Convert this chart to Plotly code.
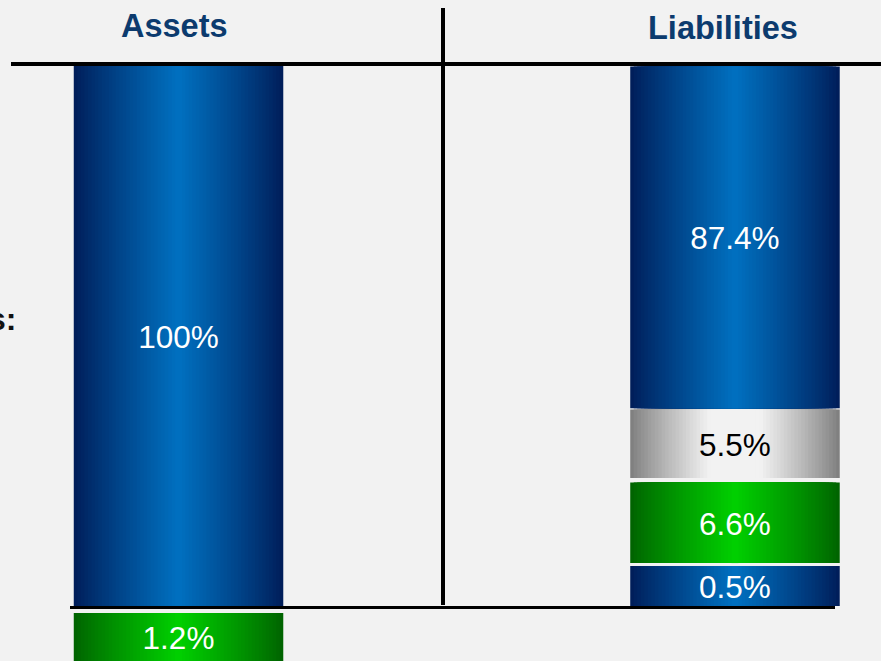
import plotly.graph_objects as go

# Slide palette
BG = "#f2f2f2"
HEAD_BLUE = "#0c3b6e"
BLUE_EDGE, BLUE_MID = (0, 30, 90), (0, 114, 194)
GRAY_EDGE, GRAY_MID = (128, 128, 128), (242, 242, 242)
GREEN_EDGE, GREEN_MID = (0, 100, 0), (0, 210, 0)
FONT = "Arial, Liberation Sans"

# Data (shares in %)
columns = ["Assets", "Liabilities"]
asset_labels = ["100%", "1.2%"]
asset_values = [100.0, -1.2]
liab_labels = ["0.5%", "6.6%", "5.5%", "87.4%"]
liab_values = [0.5, 6.6, 5.5, 87.4]

# drawn height of each block on the slide (not to scale, % of the Assets block)
asset_heights = [100.0, -8.9]
asset_bases = [0.0, -1.3]
liab_heights = [7.4, 14.9, 12.7, 63.3]
liab_gaps = [0.55, 0.85, 0.2]

# Build one flat list of blocks
seg_x, seg_h, seg_b, seg_lab, seg_style = [], [], [], [], []
for lab, h, b, st in zip(asset_labels, asset_heights, asset_bases, ["blue", "green"]):
    seg_x.append(columns[0]); seg_h.append(h); seg_b.append(b); seg_lab.append(lab); seg_style.append(st)
base = 0.0
for i, (lab, h, st) in enumerate(zip(liab_labels, liab_heights, ["blue", "green", "gray", "blue"])):
    seg_x.append(columns[1]); seg_h.append(h); seg_b.append(base); seg_lab.append(lab); seg_style.append(st)
    base += h + (liab_gaps[i] if i < len(liab_gaps) else 0)

STYLES = {"blue": (BLUE_EDGE, BLUE_MID), "green": (GREEN_EDGE, GREEN_MID), "gray": (GRAY_EDGE, GRAY_MID)}


def mix(c0, c1, t):
    return "rgb(%d,%d,%d)" % tuple(round(a + (b - a) * t) for a, b in zip(c0, c1))


fig = go.Figure()

# fake horizontal gradient: overlaid bars getting narrower and lighter
N_LAYERS = 30
BAR_W = 0.3765
for k in range(N_LAYERS):
    t = k / N_LAYERS
    colors = []
    for st in seg_style:
        edge, mid = STYLES[st]
        tt = min(1.0, t * 1.35) if st == "gray" else t
        colors.append(mix(edge, mid, tt ** 0.9))
    fig.add_trace(go.Bar(
        x=seg_x, y=seg_h, base=seg_b,
        width=BAR_W * (1 - t),
        marker=dict(color=colors, line=dict(width=0)),
        hoverinfo="skip", showlegend=False,
    ))

# block labels (nudged a bit so the digits sit in the middle of the block)
LABEL_NUDGE = -0.75
fig.add_trace(go.Scatter(
    x=seg_x,
    y=[b + h / 2 + LABEL_NUDGE for b, h in zip(seg_b, seg_h)],
    text=seg_lab,
    mode="text",
    textfont=dict(family=FONT, size=31.5,
                  color=["black" if s == "gray" else "white" for s in seg_style]),
    hoverinfo="skip", showlegend=False,
))

# headers
for txt, px, py in [("Assets", 174, 26), ("Liabilities", 723, 28)]:
    fig.add_annotation(x=px / 881, y=1 - py / 661, xref="paper", yref="paper", text="<b>%s</b>" % txt,
                       xanchor="center", yanchor="middle", showarrow=False,
                       font=dict(family=FONT, size=32.5, color=HEAD_BLUE))
fig.add_annotation(x=18 / 881, y=1 - 319 / 661, xref="paper", yref="paper", xanchor="right", yanchor="middle",
                   text="<b>s:</b>", showarrow=False, font=dict(family=FONT, size=32, color="#111111"))

# table rules
fig.add_shape(type="line", xref="paper", yref="paper", x0=11 / 881, x1=1, y0=1 - 64 / 661, y1=1 - 64 / 661,
              line=dict(color="black", width=4))
fig.add_shape(type="line", xref="paper", yref="paper", x0=443 / 881, x1=443 / 881, y0=1 - 8 / 661, y1=1 - 605 / 661,
              line=dict(color="black", width=4))
fig.add_shape(type="line", xref="paper", yref="paper", x0=70 / 881, x1=835 / 881, y0=1 - 607.5 / 661,
              y1=1 - 607.5 / 661, line=dict(color="black", width=3))

fig.update_layout(
    width=881, height=661,
    margin=dict(l=0, r=0, t=0, b=0),
    paper_bgcolor=BG, plot_bgcolor=BG,
    barmode="overlay",
    xaxis=dict(type="category", range=[-0.3208, 1.2624], visible=False, fixedrange=True),
    yaxis=dict(range=[-10.185, 112.22], visible=False, fixedrange=True),
)

# the page's default body margin would shift the slide by 8px
fig.write_html("out.html", config={"displayModeBar": False},
               post_script="document.body.style.margin='0';document.body.style.overflow='hidden';")
